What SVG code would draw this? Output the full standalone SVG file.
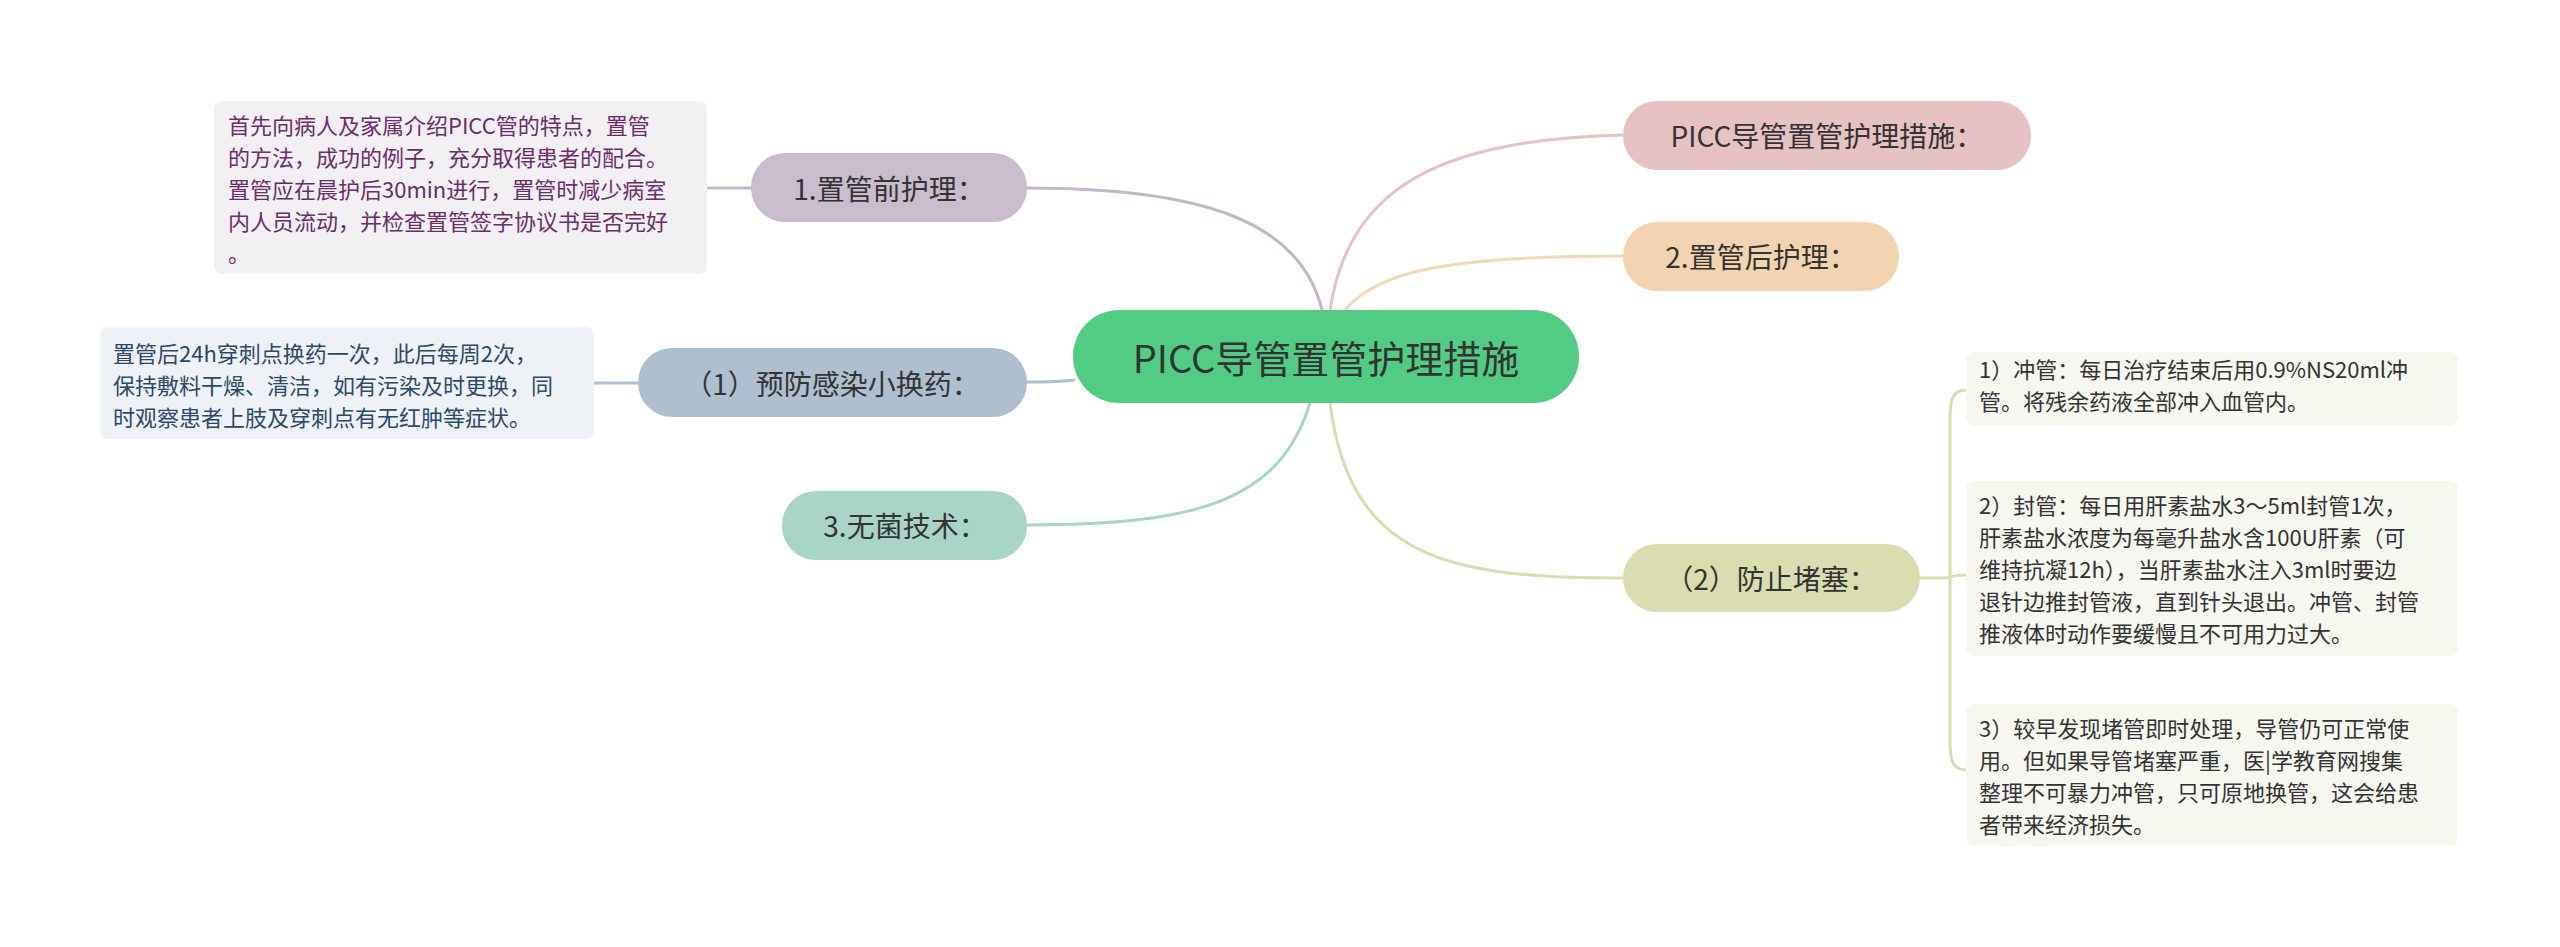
<svg xmlns="http://www.w3.org/2000/svg" width="2560" height="947" viewBox="0 0 2560 947">
<style>
text{font-family:"Noto Sans CJK SC","Liberation Sans",sans-serif;fill:#333}
.c{font-size:28px;text-anchor:middle;dominant-baseline:central}
.n{font-size:22px}
path{fill:none;stroke-width:3}
</style>
<rect width="2560" height="947" fill="#fff"/>
<g id="connectors">
<path d="M1330,310 C1350,180 1450,140 1623,135" stroke="#e6c2c2"/>
<path d="M1345,310 C1380,270 1450,256 1623,256" stroke="#f2d9b4"/>
<path d="M1330,403 C1350,560 1450,578 1623,578" stroke="#d9ddb0"/>
<path d="M1322,310 C1300,220 1200,188 1027,188" stroke="#c4b6c8"/>
<path d="M1075,380 C1060,382 1040,382 1027,382" stroke="#b0bfd0"/>
<path d="M1310,403 C1280,500 1200,525 1027,525" stroke="#a8d5c8"/>
<path d="M707,188 L751,188" stroke="#c4b6c8"/>
<path d="M594,383 L638,383" stroke="#b0bfd0"/>
<path d="M1920,578 L1945,578 M1966,390 C1952,390 1950,400 1950,420 L1950,740 C1950,760 1952,770 1966,770 M1945,578 C1950,578 1952,575 1966,575" stroke="#d9ddb0"/>
</g>
<g id="center"><rect x="1073" y="310" width="506" height="93" rx="46" fill="#52cc85"/><text x="1326" y="356" class="c" style="font-size:38px">PICC导管置管护理措施</text></g>
<g id="n1"><rect x="1623" y="101" width="408" height="69" rx="34" fill="#e6c2c2"/><text x="1827" y="135" class="c">PICC导管置管护理措施：</text></g>
<g id="n2"><rect x="1623" y="222" width="276" height="69" rx="34" fill="#f2d5b0"/><text x="1761" y="256" class="c">2.置管后护理：</text></g>
<g id="n3"><rect x="1623" y="544" width="297" height="68" rx="34" fill="#d9ddb0"/><text x="1771" y="578" class="c">（2）防止堵塞：</text></g>
<g id="n4"><rect x="751" y="153" width="276" height="69" rx="34" fill="#c9bccd"/><text x="889" y="188" class="c">1.置管前护理：</text></g>
<g id="n5"><rect x="638" y="348" width="389" height="69" rx="34" fill="#b0bfd0"/><text x="832" y="383" class="c">（1）预防感染小换药：</text></g>
<g id="n6"><rect x="782" y="491" width="245" height="69" rx="34" fill="#a8d5c8"/><text x="905" y="525" class="c">3.无菌技术：</text></g>
<g id="note1"><rect x="214" y="101" width="493" height="173" rx="8" fill="#f3f0f4"/>
<text class="n" style="fill:#6b2d6b"><tspan x="228" y="134">首先向病人及家属介绍PICC管的特点，置管</tspan><tspan x="228" y="166">的方法，成功的例子，充分取得患者的配合。</tspan><tspan x="228" y="198">置管应在晨护后30min进行，置管时减少病室</tspan><tspan x="228" y="230">内人员流动，并检查置管签字协议书是否完好</tspan><tspan x="228" y="262">。</tspan></text></g>
<g id="note2"><rect x="100" y="327" width="494" height="112" rx="8" fill="#eef2f6"/>
<text class="n" style="fill:#2b4a6b"><tspan x="113" y="362">置管后24h穿刺点换药一次，此后每周2次，</tspan><tspan x="113" y="394">保持敷料干燥、清洁，如有污染及时更换，同</tspan><tspan x="113" y="426">时观察患者上肢及穿刺点有无红肿等症状。</tspan></text></g>
<g id="note3"><rect x="1966" y="352" width="492" height="74" rx="8" fill="#f6f7ef"/>
<text class="n"><tspan x="1979" y="378">1）冲管：每日治疗结束后用0.9%NS20ml冲</tspan><tspan x="1979" y="410">管。将残余药液全部冲入血管内。</tspan></text></g>
<g id="note4"><rect x="1966" y="481" width="492" height="175" rx="8" fill="#f6f7ef"/>
<text class="n"><tspan x="1979" y="514">2）封管：每日用肝素盐水3～5ml封管1次，</tspan><tspan x="1979" y="546">肝素盐水浓度为每毫升盐水含100U肝素（可</tspan><tspan x="1979" y="578">维持抗凝12h），当肝素盐水注入3ml时要边</tspan><tspan x="1979" y="610">退针边推封管液，直到针头退出。冲管、封管</tspan><tspan x="1979" y="642">推液体时动作要缓慢且不可用力过大。</tspan></text></g>
<g id="note5"><rect x="1966" y="704" width="492" height="142" rx="8" fill="#f6f7ef"/>
<text class="n"><tspan x="1979" y="737">3）较早发现堵管即时处理，导管仍可正常使</tspan><tspan x="1979" y="769">用。但如果导管堵塞严重，医|学教育网搜集</tspan><tspan x="1979" y="801">整理不可暴力冲管，只可原地换管，这会给患</tspan><tspan x="1979" y="833">者带来经济损失。</tspan></text></g>
</svg>
